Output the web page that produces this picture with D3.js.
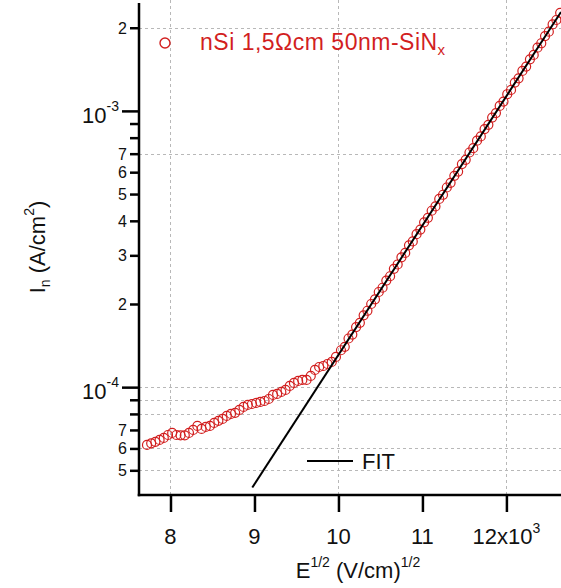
<!DOCTYPE html>
<html>
<head>
<meta charset="utf-8">
<script src="https://cdn.jsdelivr.net/npm/d3@7"></script>
<style>
  html, body { margin: 0; padding: 0; background: #fff; }
  svg { display: block; font-family: "Liberation Sans", Arial, sans-serif; }
</style>
</head>
<body>
<svg id="chart" width="561" height="588"></svg>
<script>
// ---------------- data ----------------
// E^1/2 in units of 10^3 (V/cm)^1/2, current density In (A/cm^2)
const lowX = [7.72,7.77,7.82,7.87,7.92,7.97,8.02,8.07,8.12,8.17,8.22,8.27,8.32,8.37,8.42,8.47,8.52,8.57,8.62,8.67,
  8.72,8.77,8.82,8.87,8.92,8.97,9.02,9.07,9.12,9.17,9.22,9.27,9.32,9.37,9.42,9.47,9.52,9.57,9.62,9.67,
  9.72,9.77,9.82,9.87,9.92,9.97];
const lowY = [6.18e-5,6.26e-5,6.34e-5,6.44e-5,6.55e-5,6.71e-5,6.83e-5,6.71e-5,6.69e-5,6.69e-5,6.83e-5,7.00e-5,7.24e-5,7.06e-5,7.18e-5,7.24e-5,7.42e-5,7.55e-5,7.67e-5,7.87e-5,
  8.00e-5,8.07e-5,8.27e-5,8.48e-5,8.62e-5,8.69e-5,8.77e-5,8.84e-5,8.91e-5,9.06e-5,9.37e-5,9.45e-5,9.61e-5,9.77e-5,1.010e-4,1.036e-4,1.053e-4,1.062e-4,1.062e-4,1.098e-4,
  1.154e-4,1.183e-4,1.193e-4,1.213e-4,1.234e-4,1.286e-4];
const highX = [10.030,10.075,10.120,10.165,10.210,10.255,10.300,10.345,10.390,10.435,10.480,10.525,10.570,10.615,10.660,10.705,10.750,10.795,10.840,10.885,
  10.930,10.975,11.020,11.065,11.110,11.155,11.200,11.245,11.290,11.335,11.380,11.425,11.470,11.515,11.560,11.605,11.650,11.695,11.740,11.785,
  11.830,11.875,11.920,11.965,12.010,12.055,12.100,12.145,12.190,12.235,12.280,12.325,12.370,12.415,12.460,12.505,12.550,12.595,12.640];
const highY = [1.36e-4,1.40e-4,1.50e-4,1.55e-4,1.65e-4,1.71e-4,1.82e-4,1.89e-4,2.00e-4,2.08e-4,2.21e-4,2.29e-4,2.43e-4,2.52e-4,2.68e-4,2.78e-4,2.95e-4,3.06e-4,3.26e-4,3.37e-4,
  3.58e-4,3.72e-4,3.95e-4,4.10e-4,4.35e-4,4.51e-4,4.80e-4,4.97e-4,5.28e-4,5.49e-4,5.82e-4,6.03e-4,6.42e-4,6.65e-4,7.07e-4,7.33e-4,7.80e-4,8.08e-4,8.59e-4,8.90e-4,
  9.46e-4,9.82e-4,1.042e-3,1.081e-3,1.149e-3,1.191e-3,1.266e-3,1.312e-3,1.395e-3,1.447e-3,1.537e-3,1.594e-3,1.694e-3,1.757e-3,1.866e-3,1.936e-3,2.056e-3,2.133e-3,2.265e-3];
const fitX = [8.974, 12.65];
const fitY = [4.33e-5, 2.28e-3];

const xTicks = [8, 9, 10, 11, 12];
const xTickLabels = ["8", "9", "10", "11", "12"];
const xGrid = [8, 10, 12];
const yMajor = [1e-4, 1e-3];
const yMajorExp = ["-4", "-3"];
const yMinor = [5e-5,6e-5,7e-5,8e-5,9e-5,2e-4,3e-4,4e-4,5e-4,6e-4,7e-4,8e-4,9e-4,2e-3];
const yMinorLabels = ["5","6","7","","","2","3","4","5","6","7","","","2"];
const yGrid = [5e-5,6e-5,8e-5,9e-5,1e-4,7e-4,2e-3];
const seriesName = "nSi 1,5Ωcm 50nm-SiN";
const fitName = "FIT";

// ---------------- layout ----------------
const svg = d3.select("#chart");
const mLeft = 139, mRight = 561, mTop = 0, mBottom = 495;
const red = "#d21f1f";

const x = d3.scaleLinear().domain([7.625, 12.65]).range([mLeft, mRight]);
const y = d3.scaleLog().domain([4.07e-5, 2.52e-3]).range([mBottom, mTop]);

const data = lowX.map((v, i) => [v, lowY[i]]).concat(highX.map((v, i) => [v, highY[i]]));

svg.append("defs").append("clipPath").attr("id", "clip")
  .append("rect").attr("x", mLeft).attr("y", mTop).attr("width", mRight - mLeft).attr("height", mBottom - mTop);

// grid
const grid = svg.append("g").attr("stroke", "#b8b8b8").attr("stroke-width", 1).attr("stroke-dasharray", "3,3");
grid.selectAll(".hg").data(yGrid).join("line").attr("class", "hg")
  .attr("x1", mLeft).attr("x2", mRight).attr("y1", d => Math.round(y(d)) + 0.5).attr("y2", d => Math.round(y(d)) + 0.5);
grid.selectAll(".vg").data(xGrid).join("line").attr("class", "vg")
  .attr("y1", mTop).attr("y2", mBottom).attr("x1", d => Math.round(x(d)) + 0.5).attr("x2", d => Math.round(x(d)) + 0.5);

// data
const plot = svg.append("g").attr("clip-path", "url(#clip)");
plot.selectAll("circle").data(data).join("circle")
  .attr("cx", d => x(d[0])).attr("cy", d => y(d[1])).attr("r", 4.5)
  .attr("fill", "none").attr("stroke", red).attr("stroke-width", 1.2);

// fit
plot.append("path")
  .attr("d", d3.line().x(d => x(d[0])).y(d => y(d[1])) (fitX.map((v, i) => [v, fitY[i]])))
  .attr("stroke", "#000").attr("stroke-width", 2).attr("fill", "none");

// x axis
const xAxis = d3.axisBottom(x).tickValues(xTicks).tickSize(17).tickFormat("");
const gx = svg.append("g").attr("transform", `translate(0,${mBottom})`).call(xAxis);
gx.select(".domain").remove();
svg.append("line").attr("x1", mLeft - 1.25).attr("x2", mRight).attr("y1", mBottom).attr("y2", mBottom)
  .attr("stroke", "#000").attr("stroke-width", 2.5);
xTicks.forEach((t, i) => {
  const tx = svg.append("text").attr("x", x(t)).attr("y", 544).attr("text-anchor", "middle")
    .attr("font-size", 22).attr("fill", "#111");
  tx.append("tspan").text(xTickLabels[i]);
  if (t === 12) {
    tx.append("tspan").text("x10");
    tx.append("tspan").attr("font-size", 14).attr("dy", -11).text("3");
  }
});
// x title
const xt = svg.append("text").attr("x", 358).attr("y", 578).attr("text-anchor", "middle")
  .attr("font-size", 22).attr("fill", "#111");
xt.append("tspan").text("E");
xt.append("tspan").attr("font-size", 14).attr("dy", -11).text("1/2");
xt.append("tspan").attr("dy", 11).text(" (V/cm)");
xt.append("tspan").attr("font-size", 14).attr("dy", -11).text("1/2");

// y axis
const yAxisMajor = d3.axisLeft(y).tickValues(yMajor).tickSize(17).tickFormat("");
const yAxisMinor = d3.axisLeft(y).tickValues(yMinor).tickSize(9).tickFormat("");
const gy1 = svg.append("g").attr("transform", `translate(${mLeft},0)`).call(yAxisMajor);
const gy2 = svg.append("g").attr("transform", `translate(${mLeft},0)`).call(yAxisMinor);
gy1.select(".domain").remove(); gy2.select(".domain").remove();
svg.selectAll(".tick line").attr("stroke", "#000").attr("stroke-width", 2.5);
svg.append("line").attr("x1", mLeft).attr("x2", mLeft).attr("y1", mTop + 3).attr("y2", mBottom + 1.25)
  .attr("stroke", "#000").attr("stroke-width", 2.5);

yMinor.forEach((t, i) => {
  if (!yMinorLabels[i]) return;
  svg.append("text").attr("x", 127).attr("y", y(t) + 6).attr("text-anchor", "end")
    .attr("font-size", 16).attr("fill", "#111").text(yMinorLabels[i]);
});
yMajor.forEach((t, i) => {
  const tt = svg.append("text").attr("x", 119).attr("y", y(t) + 12).attr("text-anchor", "end")
    .attr("font-size", 22).attr("fill", "#111");
  tt.append("tspan").text("10");
  tt.append("tspan").attr("font-size", 14).attr("dy", -12).text(yMajorExp[i]);
});

// y title
const yt = svg.append("text").attr("transform", "translate(45,247) rotate(-90)")
  .attr("text-anchor", "middle").attr("font-size", 22).attr("fill", "#111");
yt.append("tspan").text("I");
yt.append("tspan").attr("font-size", 14).attr("dy", 5).text("n");
yt.append("tspan").attr("dy", -5).text(" (A/cm");
yt.append("tspan").attr("font-size", 14).attr("dy", -11).text("2");
yt.append("tspan").attr("dy", 11).text(")");

// legend
svg.append("circle").attr("cx", 165).attr("cy", 43).attr("r", 5)
  .attr("fill", "none").attr("stroke", red).attr("stroke-width", 1.4);
const lt = svg.append("text").attr("x", 200).attr("y", 50).attr("font-size", 23)
  .attr("letter-spacing", 0.5).attr("fill", red);
lt.append("tspan").text(seriesName);
lt.append("tspan").attr("font-size", 15).attr("dy", 5).text("x");

svg.append("line").attr("x1", 307).attr("x2", 353).attr("y1", 461).attr("y2", 461)
  .attr("stroke", "#000").attr("stroke-width", 2);
svg.append("text").attr("x", 362).attr("y", 469).attr("font-size", 22).attr("fill", "#111").text(fitName);
</script>
</body>
</html>
